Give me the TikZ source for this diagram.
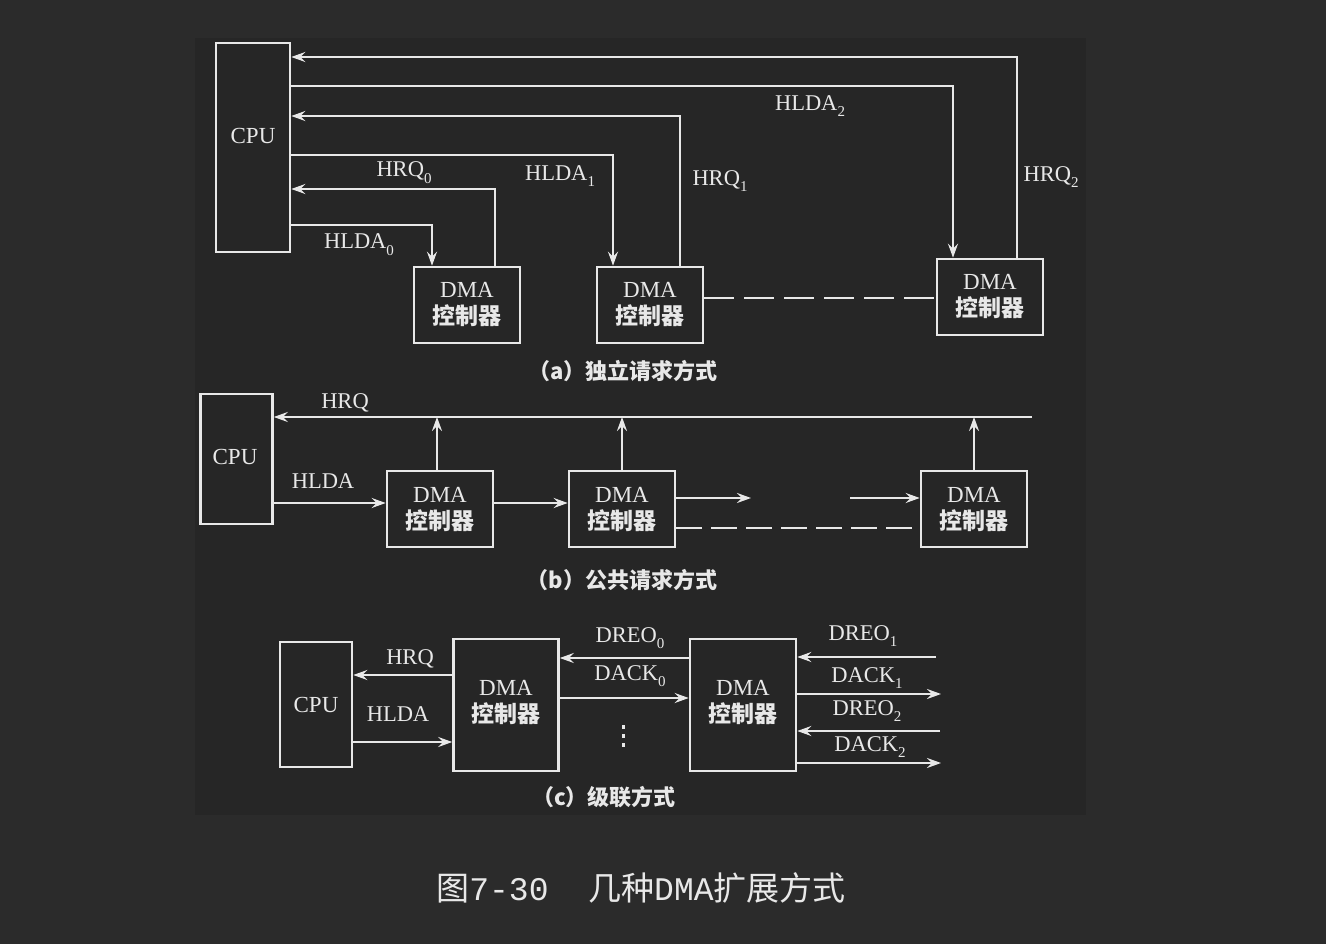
\documentclass[tikz,border=0pt]{standalone}
\usepackage{fontspec}
\setmainfont{Liberation Serif}
\newfontfamily\cjk{Noto Sans CJK SC}
\newfontfamily\monof{Liberation Mono}
\usetikzlibrary{arrows.meta}
\definecolor{bgout}{HTML}{2B2B2B}
\definecolor{bgin}{HTML}{262626}
\definecolor{fg}{HTML}{E8E8E8}
\newcommand\lsub[1]{\raisebox{-0.3em}{\fontsize{15}{15}\selectfont #1}}
\tikzset{
  box/.style={draw=fg, line width=2.6pt, text=fg, inner sep=0pt, align=center, font=\fontsize{23}{27}\selectfont},
  lbl/.style={text=fg, inner sep=0pt, font=\fontsize{22.5}{24}\selectfont},
  captext/.style={text=fg, inner sep=0pt, font=\cjk\bfseries\fontsize{22}{24}\selectfont},
  wire/.style={draw=fg, line width=2.3pt},
  arr/.style={wire, -{Stealth[length=14pt,width=10pt,inset=5pt]}},
  dasha/.style={wire, dash pattern=on 30pt off 10pt},
  dashb/.style={wire, dash pattern=on 26pt off 9pt}
}
\newcommand\dmat{DMA\\{\cjk\bfseries 控制器}}
\begin{document}
\begin{tikzpicture}[x=1pt,y=-1pt]
\fill[bgout] (0,0) rectangle (1326,944);
\fill[bgin] (195,38) rectangle (1086,815);
\useasboundingbox (0,0) rectangle (1326,944);

% ---------------- (a) ----------------
\node[box, minimum width=74pt, minimum height=209pt] (cpuA) at (253,147.5) {};
\node[box, draw=none] (cpuAt) at (253,136) {CPU};
\node[box, minimum width=106pt, minimum height=76pt] (dA1) at (467,305) {\dmat};
\node[box, minimum width=106pt, minimum height=76pt] (dA2) at (650,305) {\dmat};
\node[box, minimum width=106pt, minimum height=76pt] (dA3) at (990,297) {\dmat};

\coordinate (q2) at (1017,57);
\coordinate (a2) at (953,86);
\coordinate (q1) at (680,116);
\coordinate (a1) at (613,155);
\coordinate (q0) at (495,189);
\coordinate (a0) at (432,225);
\coordinate (dl) at (700,298);

\draw[arr] (dA3.north -| q2) |- (cpuA.east |- q2);
\draw[arr] (cpuA.east |- a2) -| (dA3.north -| a2);
\draw[arr] (dA2.north -| q1) |- (cpuA.east |- q1);
\draw[arr] (cpuA.east |- a1) -| (dA2.north -| a1);
\draw[arr] (dA1.north -| q0) |- (cpuA.east |- q0);
\draw[arr] (cpuA.east |- a0) -| (dA1.north -| a0);
\draw[dasha] (dA2.east |- dl) -- (dA3.west |- dl);

\node[lbl] (lq0) at (404,173) {HRQ\lsub{0}};
\node[lbl] (la0) at (359,245) {HLDA\lsub{0}};
\node[lbl] (la1) at (560,176) {HLDA\lsub{1}};
\node[lbl] (lq1) at (720,181) {HRQ\lsub{1}};
\node[lbl] (la2) at (810,106) {HLDA\lsub{2}};
\node[lbl] (lq2) at (1051,177) {HRQ\lsub{2}};
\node[captext] (capa) at (623,371) {（a）独立请求方式};

% ---------------- (b) ----------------
\node[box, minimum width=72pt, minimum height=130pt] (cpuB) at (236.5,459) {};
\node[box, draw=none] (cpuBt) at (235,457) {CPU};
\node[box, minimum width=106pt, minimum height=76pt] (dB1) at (440,509) {\dmat};
\node[box, minimum width=106pt, minimum height=76pt] (dB2) at (622,509) {\dmat};
\node[box, minimum width=106pt, minimum height=76pt] (dB3) at (974,509) {\dmat};
\coordinate (bus) at (1032,417);
\coordinate (up1) at (437,417);
\coordinate (hl) at (300,503);
\coordinate (ob) at (751,498);
\coordinate (ib) at (850,498);
\coordinate (dlb) at (700,528);
\draw[arr] (bus) -- (cpuB.east |- bus);
\draw[arr] (dB1.north -| up1) -- (up1);
\draw[arr] (dB2.north) -- (dB2.north |- bus);
\draw[arr] (dB3.north) -- (dB3.north |- bus);
\draw[arr] (cpuB.east |- hl) -- (dB1.west |- hl);
\draw[arr] (dB1.east |- hl) -- (dB2.west |- hl);
\draw[arr] (dB2.east |- ob) -- (ob);
\draw[arr] (ib) -- (dB3.west |- ib);
\draw[dashb] (dB2.east |- dlb) -- (dB3.west |- dlb);
\node[lbl] (lhrqb) at (345,403) {HRQ};
\node[lbl] (lhldab) at (323,481) {HLDA};
\node[captext] (capb) at (622,580) {（b）公共请求方式};

% ---------------- (c) ----------------
\node[box, minimum width=72pt, minimum height=125pt] (cpuC) at (316,704.5) {CPU};
\node[box, minimum width=105pt, minimum height=132pt] (dC1) at (506,705) {};
\node[box, draw=none] (dC1t) at (506,702) {\dmat};
\node[box, minimum width=106pt, minimum height=132pt] (dC2) at (743,705) {};
\node[box, draw=none] (dC2t) at (743,702) {\dmat};
\coordinate (c1) at (400,675);
\coordinate (c2) at (400,742);
\coordinate (c3) at (620,658);
\coordinate (c4) at (620,698);
\draw[arr] (dC1.west |- c1) -- (cpuC.east |- c1);
\draw[arr] (cpuC.east |- c2) -- (dC1.west |- c2);
\draw[arr] (dC2.west |- c3) -- (dC1.east |- c3);
\draw[arr] (dC1.east |- c4) -- (dC2.west |- c4);
\coordinate (e1) at (936,657);
\coordinate (e2) at (941,694);
\coordinate (e3) at (940,731);
\coordinate (e4) at (941,763);
\draw[arr] (e1) -- (dC2.east |- e1);
\draw[arr] (dC2.east |- e2) -- (e2);
\draw[arr] (e3) -- (dC2.east |- e3);
\draw[arr] (dC2.east |- e4) -- (e4);
\foreach \yy in {727,736,745} \fill[fg] (621.5,\yy-1.6) rectangle +(3.2,3.2);
\node[lbl] (lhrqc) at (410,659) {HRQ};
\node[lbl] (lhldac) at (398,714) {HLDA};
\node[lbl] (ldr0) at (630,638) {DREO\lsub{0}};
\node[lbl] (ldk0) at (630,676) {DACK\lsub{0}};
\node[lbl] (ldr1) at (863,636) {DREO\lsub{1}};
\node[lbl] (ldk1) at (867,678) {DACK\lsub{1}};
\node[lbl] (ldr2) at (867,711) {DREO\lsub{2}};
\node[lbl] (ldk2) at (870,747) {DACK\lsub{2}};
\node[captext] (capc) at (604,797) {（c）级联方式};

% ---------------- title ----------------
\node[text=fg, inner sep=0pt, font=\cjk\fontsize{33}{35}\selectfont] (title) at (641,888)
  {图{\monof 7-30}\hspace{1.2em}几种{\monof DMA}扩展方式};
\end{tikzpicture}
\end{document}
